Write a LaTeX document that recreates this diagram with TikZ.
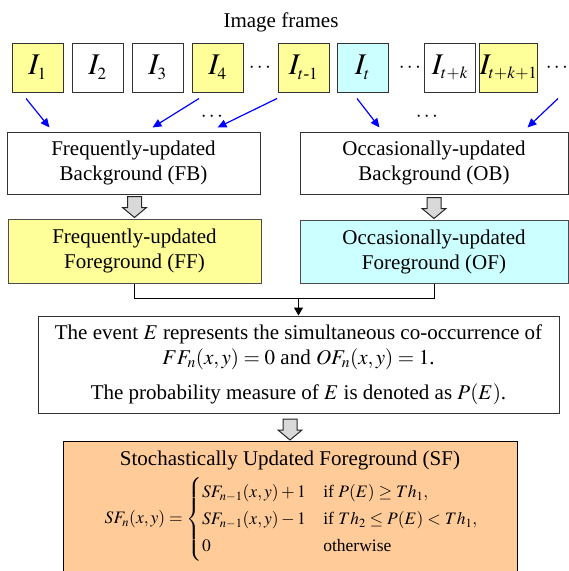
\documentclass[tikz,border=0pt]{standalone}
\usepackage{amsmath}
\usepackage{mathptmx}
\usepackage[no-math]{fontspec}
\setmainfont{Liberation Serif}
\DeclareMathSizes{30}{30}{17}{13}
\DeclareMathSizes{17.5}{17.5}{12.5}{9}
\usetikzlibrary{arrows.meta,calc}
\definecolor{yel}{HTML}{FFFF99}
\definecolor{cyn}{HTML}{CCFFFF}
\definecolor{orng}{HTML}{FFCC99}
\definecolor{edge}{HTML}{333333}
\newcommand\hollowarrow[1]{%
  \draw[blockarr] ($(#1)+(-7,-22)$) -- ($(#1)+(7,-22)$) -- ($(#1)+(7,-11)$) -- ($(#1)+(12,-11)$)
   -- ($(#1)+(0,-1)$) -- ($(#1)+(-12,-11)$) -- ($(#1)+(-7,-11)$) -- cycle;}
\begin{document}
\begin{tikzpicture}[x=1pt,y=-1pt,
  font=\fontsize{21}{25}\selectfont,
  frm/.style={draw=edge, line width=1pt, minimum width=51pt, minimum height=49pt, inner sep=0pt,
    font=\fontsize{30}{36}\selectfont},
  box/.style={draw=edge, line width=1pt, align=center, inner sep=0pt},
  barrow/.style={draw=blue, line width=1.2pt, -{Triangle[length=9pt,width=8pt]}},
  conn/.style={draw=black, line width=1pt},
  blockarr/.style={draw=black!85, fill=black!15, line width=1pt, line join=miter}]
\useasboundingbox (0,0) rectangle (569,571);

\node[anchor=base] (title) at (281,27) {Image frames};

% frames
\node[frm, fill=yel] (I1) at (37.5,67.5) {$I_1$};
\node[frm] (I2) at (97.5,67.5) {$I_2$};
\node[frm] (I3) at (157.5,67.5) {$I_3$};
\node[frm, fill=yel] (I4) at (217.5,67.5) {$I_4$};
\node (d1) at (261,68) {$\cdots$};
\node[frm, fill=yel] (It1) at (303.5,67.5) {$I_{t\text{-}1}$};
\node[frm, fill=cyn] (It) at (362.5,67.5) {$I_t$};
\node (d2) at (411,68) {$\cdots$};
\node[frm] (Itk) at (450,67.5) {$I_{t+k}$};
\node[frm, fill=yel] (Itk1) at (508.5,67.5) {$I_{t+k+1}$};
\node (d3) at (558,68) {$\cdots$};

% background boxes
\node[box, minimum width=253pt, minimum height=62pt] (FB) at (133.5,163)
  {Frequently-updated\\Background (FB)};
\node[box, minimum width=268pt, minimum height=62pt] (OB) at (434,163)
  {Occasionally-updated\\Background (OB)};

\node (d4) at (213,117) {$\cdots$};
\node (d5) at (428,117) {$\cdots$};

% blue arrows
\draw[barrow] ($(I1.south)+(-11.5,6)$) -- ($(FB.north west)+(43,-4)$);
\draw[barrow] ($(I4.south)+(-18.5,6)$) -- ($(FB.north west)+(146,-4)$);
\draw[barrow] ($(It1.south)+(-26.5,6)$) -- ($(FB.north west)+(211,-4)$);
\draw[barrow] ($(It.south)+(-5.5,6)$) -- ($(OB.north west)+(80,-4)$);
\draw[barrow] ($(Itk1.south)+(49.5,6)$) -- ($(OB.north west)+(228,-4)$);

% foreground boxes
\node[box, fill=yel, draw=black!70, minimum width=253pt, minimum height=64pt] (FF) at (134.5,251)
  {Frequently-updated\\Foreground (FF)};
\node[box, fill=cyn, draw=black!70, minimum width=268pt, minimum height=63pt] (OF) at (434,251.5)
  {Occasionally-updated\\Foreground (OF)};

\hollowarrow{FF.north}
\hollowarrow{OF.north}

% event box
\node[box, minimum width=521pt, minimum height=97pt] (Ev) at (298.5,364.5)
  {The event $E$ represents the simultaneous co-occurrence of\\
   $FF_n(x,y)=0$ and $OF_n(x,y)=1$.\\[10pt]
   The probability measure of $E$ is denoted as $P(E)$.};

\coordinate (jn) at ($(Ev.north)+(0,-17)$);
\draw[conn] (FF.south) |- (jn) -| (OF.south);
\draw[conn, -{Triangle[length=8pt,width=9pt]}] (jn) -- (Ev.north);

% SF box
\node[box, fill=orng, draw=black, anchor=north, minimum width=454pt, minimum height=150pt] (SF) at (290,441) {};
\hollowarrow{SF.north}
\node (SFt) at (290,460) {Stochastically Updated Foreground (SF)};
\node[font=\fontsize{17.5}{22.5}\selectfont] (SFeq) at (291.5,519)
  {$SF_n(x,y)=\begin{cases}
     SF_{n-1}(x,y)+1 & \text{if } P(E)\ge Th_1,\\
     SF_{n-1}(x,y)-1 & \text{if } Th_2\le P(E)<Th_1,\\
     0 & \text{otherwise}
   \end{cases}$};
\end{tikzpicture}
\end{document}
